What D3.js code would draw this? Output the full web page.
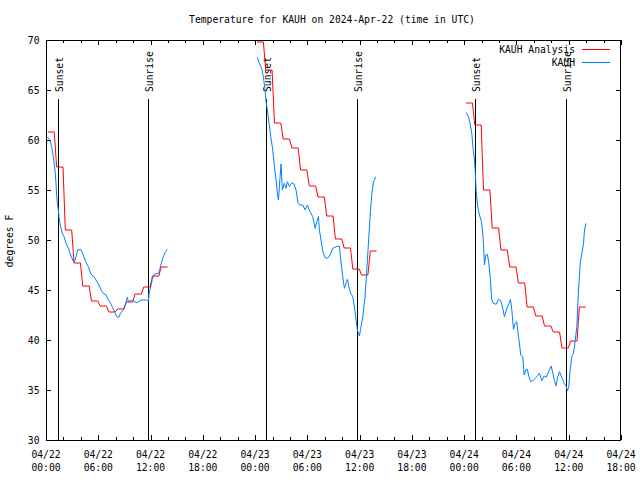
<!DOCTYPE html>
<html><head><meta charset="utf-8">
<script src="https://cdn.jsdelivr.net/npm/d3@7"></script>
<style>body{margin:0;background:#fff}text{font-family:"DejaVu Sans Mono","Liberation Mono",monospace;font-size:9.7px;fill:#000}</style>
</head><body><svg id="c" width="640" height="480"></svg>
<script>
const chartTitle = "Temperature for KAUH on 2024-Apr-22 (time in UTC)";
const yLabel = "degrees F";
const baseTime = Date.UTC(2024, 3, 22, 0, 0);
const xDomainHours = [0, 66];
const yDomain = [30, 70];
const yTicks = [30, 35, 40, 45, 50, 55, 60, 65, 70];
const seriesNames = ["KAUH Analysis", "KAUH"];
const seriesColors = ["#ff0000", "#0080ff"];
const sunsetHours = [1.34, 25.26, 49.29];
const sunriseHours = [11.75, 35.74, 59.74];

// Analysis: hourly values, each segment starting at the given hour
const analysisStarts = [0, 24, 48];
const analysis1 = [60.8, 57.3, 51.0, 47.7, 45.4, 43.9, 43.4, 42.8, 43.1, 43.8, 44.6, 45.3, 46.4, 47.3];
const analysis2 = [69.8, 67.0, 61.7, 60.1, 59.2, 57.0, 55.4, 54.3, 52.4, 50.1, 49.2, 47.1, 46.5, 48.9];
const analysis3 = [63.7, 61.5, 55.0, 51.2, 49.0, 47.3, 45.7, 43.3, 42.4, 41.4, 40.8, 39.2, 39.9, 43.3];

// Observations: [hour since 04/22 00:00 UTC, temperature F]
const obs1 = [[0.19,60.27],[0.46,60.0],[0.65,59.33],[0.84,58.33],[1.03,57.0],[1.15,55.67],[1.22,54.5],[1.30,53.67],[1.42,53.0],[1.53,52.0],[1.68,51.33],[1.87,50.67],[2.07,50.33],[2.30,49.67],[2.56,49.17],[2.83,48.5],[3.06,48.0],[3.25,47.73],[3.44,48.33],[3.64,49.0],[3.98,49.07],[4.29,48.5],[4.55,47.83],[4.86,47.33],[5.17,46.57],[5.51,46.33],[5.82,45.9],[6.08,45.5],[6.31,45.0],[6.58,44.67],[6.89,44.5],[7.16,44.0],[7.42,43.67],[7.65,43.23],[7.92,42.73],[8.11,42.33],[8.34,42.27],[8.57,42.67],[8.88,43.07],[9.15,43.67],[9.34,44.27],[9.45,43.83],[9.84,44.0],[10.41,43.73],[10.98,44.0],[11.56,44.0],[11.75,43.9],[11.86,44.83],[12.02,45.33],[12.21,46.07],[12.40,46.57],[12.90,46.67],[13.09,47.17],[13.28,47.83],[13.47,48.33],[13.66,48.73],[13.93,49.07]];
const obs2 = [[24.26,68.27],[24.49,67.67],[24.76,67.17],[24.95,66.33],[25.14,65.0],[25.26,63.83],[25.41,63.0],[25.6,61.67],[25.8,60.33],[26.03,59.0],[26.22,57.33],[26.41,56.0],[26.56,54.67],[26.68,54.0],[26.87,56.33],[26.98,57.6],[27.13,55.0],[27.36,55.67],[27.55,55.17],[27.71,55.83],[27.94,55.33],[28.21,55.73],[28.47,55.6],[28.7,55.0],[28.93,53.67],[29.16,53.5],[29.47,53.5],[29.74,53.0],[30.0,53.5],[30.31,52.83],[30.62,52.33],[30.89,51.17],[31.08,51.83],[31.27,52.33],[31.38,51.0],[31.57,50.0],[31.77,48.83],[32.03,48.23],[32.3,48.17],[32.61,48.5],[32.92,49.17],[33.3,49.33],[33.68,49.4],[33.83,48.0],[34.06,46.33],[34.25,45.17],[34.44,45.67],[34.6,46.07],[34.79,45.17],[34.98,44.67],[35.21,44.33],[35.4,43.33],[35.59,42.0],[35.74,41.0],[35.97,40.4],[36.13,41.17],[36.36,42.33],[36.62,44.33],[36.82,47.0],[37.01,49.67],[37.2,52.33],[37.39,54.5],[37.58,55.83],[37.86,56.33]];
const obs3 = [[48.22,62.73],[48.49,62.33],[48.68,61.67],[48.87,60.67],[49.06,58.83],[49.18,58.0],[49.3,56.33],[49.37,55.0],[49.52,53.5],[49.75,52.5],[49.94,52.0],[50.1,51.0],[50.21,49.67],[50.33,47.5],[50.48,48.5],[50.67,48.57],[50.83,47.67],[50.98,46.33],[51.17,44.0],[51.36,43.67],[51.67,43.57],[51.94,44.07],[52.2,43.93],[52.43,43.17],[52.62,42.33],[52.89,43.17],[53.16,43.67],[53.31,44.07],[53.47,43.0],[53.66,41.07],[53.85,41.67],[54.04,41.83],[54.24,40.33],[54.5,38.5],[54.73,38.33],[54.88,36.5],[55.08,37.0],[55.26,37.07],[55.42,36.33],[55.65,35.83],[55.95,36.0],[56.34,36.33],[56.64,36.67],[56.91,35.93],[57.18,36.4],[57.41,36.27],[57.68,36.83],[57.99,37.4],[58.18,36.67],[58.36,35.93],[58.55,35.4],[58.7,36.17],[58.94,36.83],[59.2,36.27],[59.47,35.67],[59.7,35.4],[59.85,34.93],[60.01,35.33],[60.16,37.0],[60.35,38.33],[60.54,38.67],[60.73,39.83],[60.93,41.33],[61.12,45.0],[61.32,47.67],[61.51,48.67],[61.7,49.67],[61.81,51.0],[61.98,51.67]];

const H = 3600 * 1000;
const toDate = h => new Date(baseTime + h * H);

const svg = d3.select("#c");
const L = 46, R = 621, T = 40, B = 440;
const x = d3.scaleUtc().domain(xDomainHours.map(toDate)).range([L, R]);
const y = d3.scaleLinear().domain(yDomain).range([B, T]);

// title
svg.append("text").attr("x", 332).attr("y", 23).attr("text-anchor", "middle").text(chartTitle);

// frame
svg.append("rect").attr("x", L + 0.5).attr("y", T + 0.5).attr("width", R - L - 1).attr("height", B - T)
  .attr("fill", "none").attr("stroke", "#000").attr("shape-rendering", "crispEdges");

const g = svg.append("g").attr("shape-rendering", "crispEdges").attr("stroke", "#000");
// x ticks
const minor = d3.utcHour.every(2).range(x.domain()[0], new Date(+x.domain()[1] + 1));
const major = d3.utcHour.every(6).range(x.domain()[0], new Date(+x.domain()[1] + 1));
minor.forEach(d => {
  const isMajor = d.getUTCHours() % 6 === 0;
  const len = isMajor ? 5 : 3;
  const xx = Math.round(x(d)) + 0.5;
  g.append("line").attr("x1", xx).attr("x2", xx).attr("y1", B).attr("y2", B - len);
  g.append("line").attr("x1", xx).attr("x2", xx).attr("y1", T).attr("y2", T + len);
});
const fmtD = d3.utcFormat("%m/%d"), fmtT = d3.utcFormat("%H:%M");
major.forEach(d => {
  const t = svg.append("text").attr("text-anchor", "middle");
  t.append("tspan").attr("x", x(d)).attr("y", 457.5).text(fmtD(d));
  t.append("tspan").attr("x", x(d)).attr("y", 470.5).text(fmtT(d));
});
// y ticks
yTicks.forEach(v => {
  const yy = Math.round(y(v)) + 0.5;
  g.append("line").attr("x1", L).attr("x2", L + 5).attr("y1", yy).attr("y2", yy);
  g.append("line").attr("x1", R).attr("x2", R - 5).attr("y1", yy).attr("y2", yy);
  svg.append("text").attr("x", 39.5).attr("y", y(v) + 3.5).attr("text-anchor", "end").text(v);
});
svg.append("text").attr("transform", "translate(13,241) rotate(-90)").attr("text-anchor", "middle").text(yLabel);

// sunrise/sunset markers
const marks = sunsetHours.map(h => ({h, label: "Sunset"})).concat(sunriseHours.map(h => ({h, label: "Sunrise"})));
marks.forEach(m => {
  const xx = Math.round(x(toDate(m.h))) + 0.5;
  g.append("line").attr("x1", xx).attr("x2", xx).attr("y1", y(64.1)).attr("y2", B);
  svg.append("text").attr("transform", `translate(${xx + 4.3},${y(64.1) - 7}) rotate(-90)`)
    .attr("text-anchor", "start").text(m.label);
});

const line = d3.line().x(d => x(toDate(d[0]))).y(d => y(d[1]));
// analysis
[analysis1, analysis2, analysis3].forEach((vals, i) => {
  const s = analysisStarts[i];
  const pts = [];
  vals.forEach((v, k) => { pts.push([s + k + 0.22, v]); pts.push([s + k + 0.95, v]); });
  svg.append("path").attr("d", line(pts)).attr("fill", "none").attr("stroke", seriesColors[0]).attr("stroke-width", 1);
});
// observations
[obs1, obs2, obs3].forEach(arr => {
  svg.append("path").attr("d", line(arr)).attr("fill", "none").attr("stroke", seriesColors[1]).attr("stroke-width", 1);
});

// legend
seriesNames.forEach((n, i) => {
  const ly = 49.5 + i * 13;
  svg.append("text").attr("x", 575).attr("y", ly + 3.5).attr("text-anchor", "end").text(n);
  svg.append("line").attr("x1", 582).attr("x2", 610).attr("y1", ly).attr("y2", ly)
    .attr("stroke", seriesColors[i]).attr("shape-rendering", "crispEdges");
});
</script></body></html>
